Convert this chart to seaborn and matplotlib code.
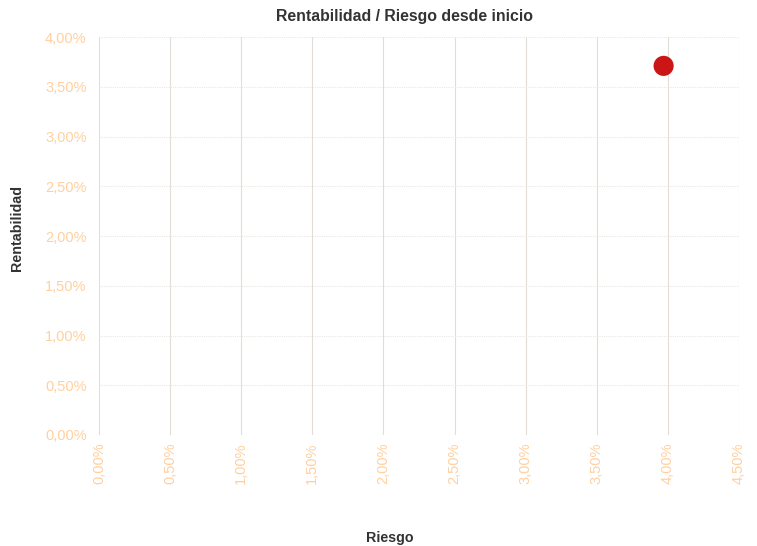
import matplotlib
matplotlib.use("Agg")
import matplotlib.pyplot as plt
import seaborn as sns
import pandas as pd

# Fund position: risk (volatility) vs. return since inception, in percent
riesgo = [3.97]
rentabilidad = [3.71]

x_ticks = [0.0, 0.5, 1.0, 1.5, 2.0, 2.5, 3.0, 3.5, 4.0, 4.5]
y_ticks = [0.0, 0.5, 1.0, 1.5, 2.0, 2.5, 3.0, 3.5, 4.0]

df = pd.DataFrame({"Riesgo": riesgo, "Rentabilidad": rentabilidad})

sns.set_theme(style="white")
plt.rcParams["font.family"] = ["Liberation Sans", "DejaVu Sans"]

fig = plt.figure(figsize=(7.57, 5.46), dpi=100)
ax = fig.add_axes([0.1308, 0.2033, 0.9762 - 0.1308, 0.9322 - 0.2033])

def pct(v):
    return f"{v:.2f}%".replace(".", ",")

ax.set_xlim(0, 4.5)
ax.set_ylim(0, 4.0)
ax.set_xticks(x_ticks)
ax.set_yticks(y_ticks)
ax.set_xticklabels([pct(v) for v in x_ticks], rotation=90, color="#ffd0a0", fontsize=10.5)
ax.set_yticklabels([pct(v) for v in y_ticks], color="#ffd0a0", fontsize=10.5)
ax.tick_params(axis="both", length=0)
ax.tick_params(axis="x", pad=5.5)
ax.tick_params(axis="y", pad=9)

# vertical grid solid, horizontal grid dotted
for v in x_ticks:
    ax.axvline(v, color="#e2ddd6", lw=0.8, zorder=0)
for v in y_ticks:
    ax.axhline(v, color="#ebe8e4", lw=0.8, ls=(0, (1, 1)), zorder=0)

for s in ax.spines.values():
    s.set_visible(False)

sns.scatterplot(data=df, x="Riesgo", y="Rentabilidad", ax=ax, s=210,
                color="#cc1616", edgecolor="none", zorder=3, clip_on=False)

ax.set_xlabel("")
ax.set_ylabel("")
fig.text(0.535, 0.969, "Rentabilidad / Riesgo desde inicio", ha="center", va="center",
         fontsize=11.4, fontweight="bold", color="#333333")
fig.text(0.515, 0.014, "Riesgo", ha="center", va="center",
         fontsize=10.3, fontweight="bold", color="#333333")
fig.text(0.0225, 0.582, "Rentabilidad", ha="center", va="center", rotation=90,
         fontsize=10.3, fontweight="bold", color="#333333")

fig.savefig("out.png", dpi=100, facecolor="white")
